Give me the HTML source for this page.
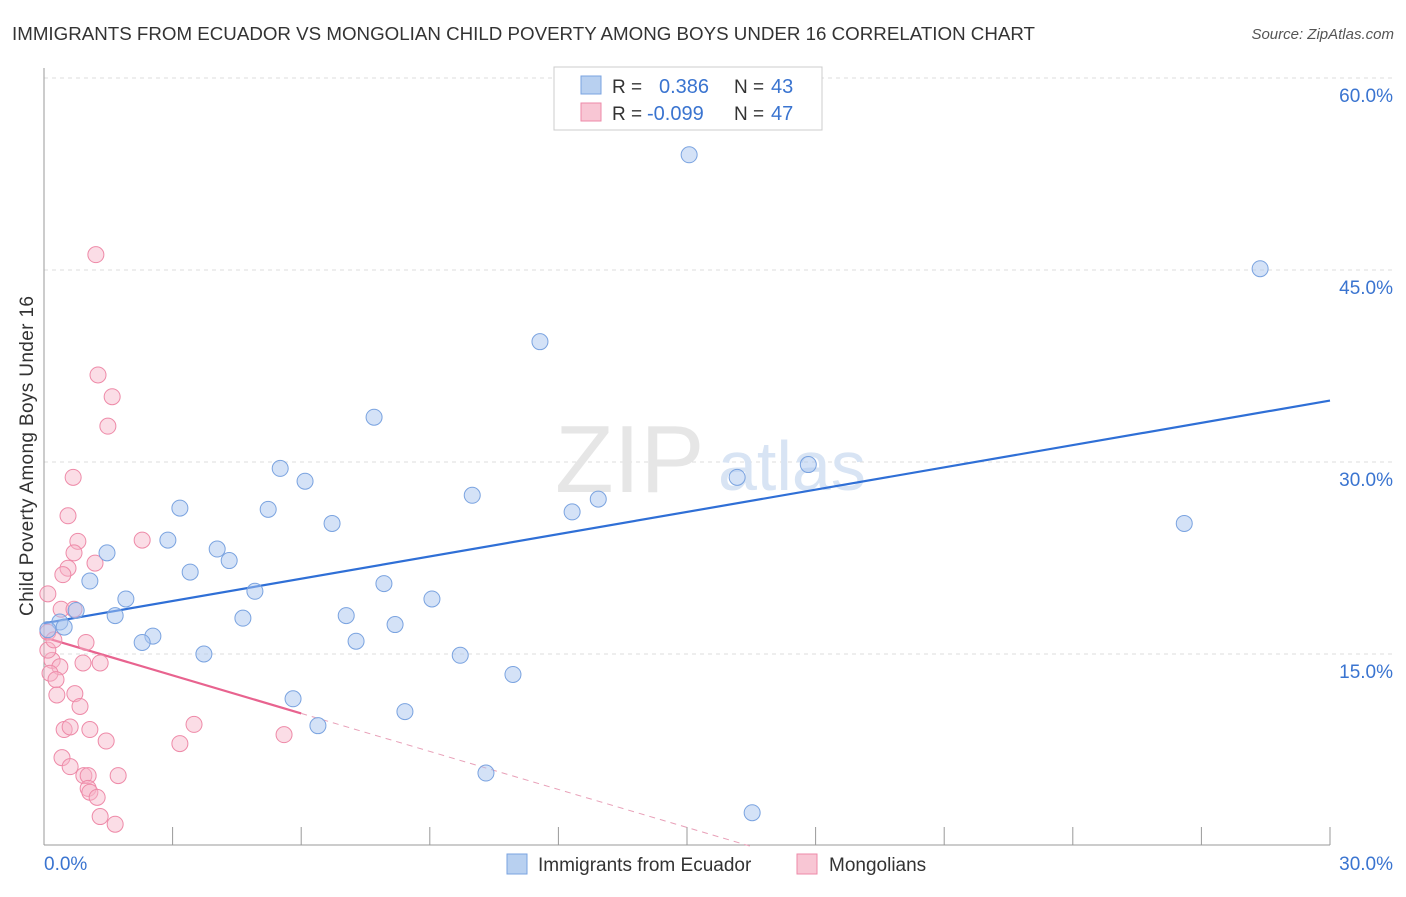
<!DOCTYPE html>
<html><head><meta charset="utf-8"><style>
body{margin:0;background:#fff;font-family:"Liberation Sans",sans-serif;}
svg text{font-family:"Liberation Sans",sans-serif;}
</style></head><body>
<svg id="chart" width="1406" height="892" viewBox="0 0 1406 892" xmlns="http://www.w3.org/2000/svg">
<text x="12" y="40" font-size="18" fill="#333" textLength="1023" lengthAdjust="spacingAndGlyphs">IMMIGRANTS FROM ECUADOR VS MONGOLIAN CHILD POVERTY AMONG BOYS UNDER 16 CORRELATION CHART</text>
<text x="1394" y="39" font-size="15" fill="#555" text-anchor="end" font-style="italic">Source: ZipAtlas.com</text>
<g id="grid"></g>
<text x="555" y="492" font-size="96" fill="#e6e6e6" font-family="Liberation Serif">ZIP</text>
<text x="718" y="490" font-size="70" fill="#d8e4f4">atlas</text>
<g id="axes"></g>
<g id="lines"></g>
<g id="pts"></g>
<text x="33" y="456" font-size="19" fill="#333" text-anchor="middle" textLength="320" transform="rotate(-90 33 456)">Child Poverty Among Boys Under 16</text>
<g>
<rect x="554" y="67" width="268" height="63" fill="#fff" stroke="#ccc"/>
<rect x="581" y="76" width="20" height="18" fill="#b8d0f0" stroke="#7aa3e0"/>
<rect x="581" y="103" width="20" height="18" fill="#f8c6d4" stroke="#ee8aa8"/>
<text x="612" y="93" font-size="19" fill="#333">R = </text><text x="659" y="93" font-size="20" fill="#3a74d0">0.386</text>
<text x="734" y="93" font-size="19" fill="#333">N = </text><text x="771" y="93" font-size="20" fill="#3a74d0">43</text>
<text x="612" y="120" font-size="19" fill="#333">R = </text><text x="647" y="120" font-size="20" fill="#3a74d0">-0.099</text>
<text x="734" y="120" font-size="19" fill="#333">N = </text><text x="771" y="120" font-size="20" fill="#3a74d0">47</text>
</g>
<g>
<rect x="507" y="854" width="20" height="20" fill="#b8d0f0" stroke="#7aa3e0"/>
<text x="538" y="871" font-size="19" fill="#333">Immigrants from Ecuador</text>
<rect x="797" y="854" width="20" height="20" fill="#f8c6d4" stroke="#ee8aa8"/>
<text x="829" y="871" font-size="19" fill="#333">Mongolians</text>
</g>
</svg>
<script>
const blueX=[15.05,28.37,11.57,7.70,5.51,6.09,9.99,16.17,17.83,12.32,12.93,3.17,5.23,6.72,26.60,2.89,1.47,4.04,4.32,3.41,1.07,7.93,4.92,9.05,1.91,0.75,1.66,4.64,7.05,8.19,0.37,0.47,0.09,2.54,2.29,7.28,3.73,9.71,10.94,5.81,8.42,6.39,10.31,16.52];
const blueY=[54.0,45.1,39.4,33.5,29.5,28.5,27.4,28.8,29.8,26.1,27.1,26.4,26.3,25.2,25.2,23.9,22.9,23.2,22.3,21.4,20.7,20.5,19.9,19.3,19.3,18.4,18.0,17.8,18.0,17.3,17.5,17.1,16.9,16.4,15.9,16.0,15.0,14.9,13.4,11.5,10.5,9.4,5.7,2.6];
const pinkX=[1.21,1.26,1.59,1.49,0.68,0.56,2.29,0.79,0.70,0.56,0.44,1.19,0.09,0.40,0.70,0.09,0.98,0.19,0.91,1.31,0.37,0.14,0.28,0.72,0.30,0.84,3.50,1.07,0.47,0.61,1.45,3.17,5.60,0.42,0.61,0.93,1.03,1.73,1.03,1.07,1.24,1.31,1.66,0.09,0.23];
const pinkY=[46.2,36.8,35.1,32.8,28.8,25.8,23.9,23.8,22.9,21.7,21.2,22.1,19.7,18.5,18.5,16.7,15.9,14.5,14.3,14.3,14.0,13.5,13.0,11.9,11.8,10.9,9.5,9.1,9.1,9.3,8.2,8.0,8.7,6.9,6.2,5.5,5.5,5.5,4.5,4.2,3.8,2.3,1.7,15.3,16.1];
const blueTrend=[17.4,34.8];   // y at x=0 and x=30
const pinkTrend=[16.3,-0.99];  // intercept, slope per %
const yTicks=[15,30,45,60];
const yTickLabels=["15.0%","30.0%","45.0%","60.0%"];
const xTicks=[0,3,6,9,12,15,18,21,24,27,30];
const NS="http://www.w3.org/2000/svg";
const X=v=>44+v/30*1286, Y=v=>846-v*12.8;
function mk(tag,attrs,parent){const e=document.createElementNS(NS,tag);for(const k in attrs)e.setAttribute(k,attrs[k]);parent.appendChild(e);return e;}
const grid=document.getElementById('grid'),axes=document.getElementById('axes'),lines=document.getElementById('lines'),pts=document.getElementById('pts');
yTicks.forEach((t,i)=>{
 const l=mk('line',{x1:44,x2:1394,y1:Y(t),y2:Y(t),stroke:'#ddd','stroke-dasharray':'4,4'},grid);
 
 
 const tx=mk('text',{x:1393,y:Y(t)+24,'font-size':19,fill:'#3a74d0','text-anchor':'end'},axes);
 tx.textContent=yTickLabels[i];
 
 
});
const ax=mk('line',{x1:44,x2:1330,y1:845,y2:845,stroke:'#999'},axes);


const ay=mk('line',{x1:44,x2:44,y1:68,y2:845,stroke:'#999'},axes);


xTicks.forEach(t=>{const l=mk('line',{x1:X(t),x2:X(t),y1:827,y2:845,stroke:'#999'},axes);
 
 });
[["0.0%",44,'start'],["30.0%",1393,'end']].forEach(a=>{const t=mk('text',{x:a[1],y:870,'font-size':19,fill:'#3a74d0','text-anchor':a[2]},axes);t.textContent=a[0];
 
 });
const bl=mk('line',{x1:X(0),y1:Y(blueTrend[0]),x2:X(30),y2:Y(blueTrend[1]),stroke:'#2f6fd6','stroke-width':2.2},lines);


const pe=6, pz=-pinkTrend[0]/pinkTrend[1];
const ps=mk('line',{x1:X(0),y1:Y(pinkTrend[0]),x2:X(pe),y2:Y(pinkTrend[0]+pinkTrend[1]*pe),stroke:'#e8638f','stroke-width':2.2},lines);


const pd=mk('line',{x1:X(pe),y1:Y(pinkTrend[0]+pinkTrend[1]*pe),x2:X(pz),y2:Y(0),stroke:'#e8a0b8','stroke-width':1,'stroke-dasharray':'6,5'},lines);


pinkX.forEach((v,i)=>{const c=mk('circle',{cx:X(v),cy:Y(pinkY[i]),r:8,fill:'rgba(246,180,200,0.45)',stroke:'#ee8aa8','stroke-width':1},pts);
 
 });
blueX.forEach((v,i)=>{const c=mk('circle',{cx:X(v),cy:Y(blueY[i]),r:8,fill:'rgba(170,198,240,0.5)',stroke:'#7aa3e0','stroke-width':1},pts);
 
 });
</script>
</body></html>
